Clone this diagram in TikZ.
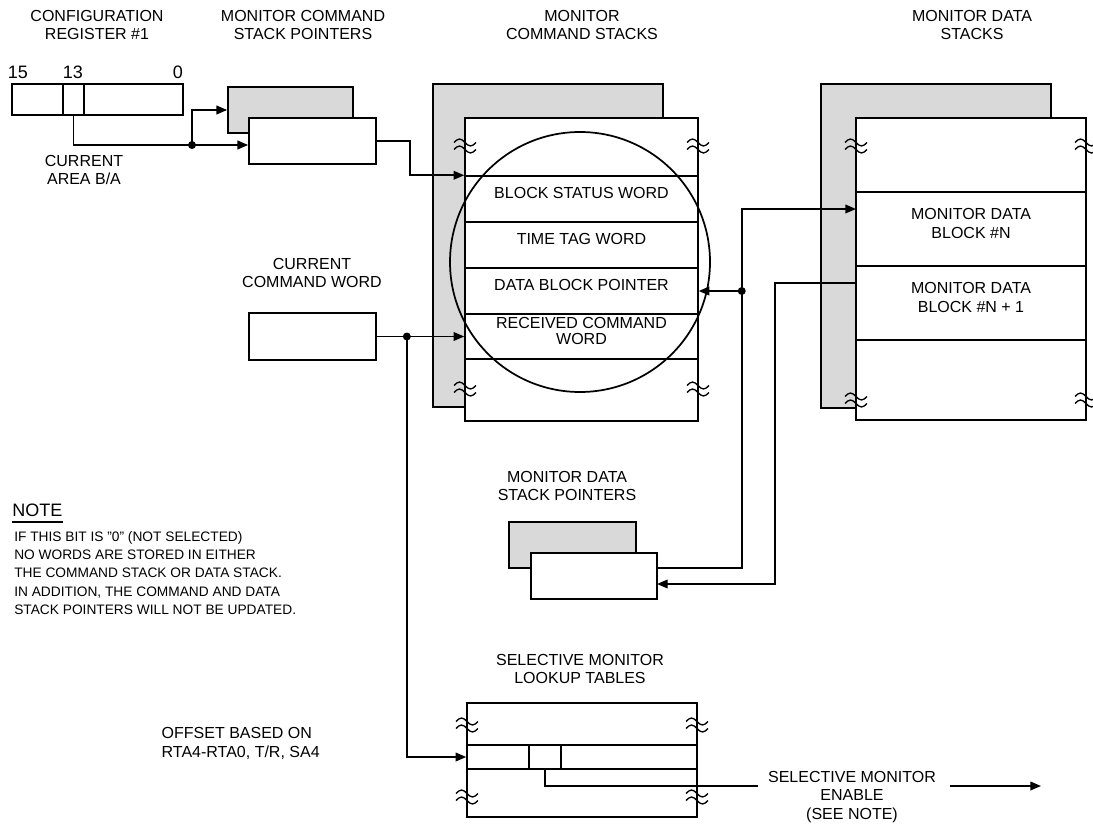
\documentclass[tikz,border=0pt]{standalone}
\usepackage{fontspec}
\setmainfont{Liberation Sans}
\usetikzlibrary{arrows.meta,fit,calc}
\begin{document}
\begin{tikzpicture}[x=0.75pt,y=-0.75pt,
  box/.style={draw, line width=1.3pt, inner sep=0pt},
  shade/.style={box, fill=gray!30},
  wbox/.style={box, fill=white},
  row/.style={draw, line width=1.1pt, inner sep=0pt},
  conn/.style={line width=1.2pt},
  arr/.style={conn, -{Triangle[length=8pt,width=6.5pt]}},
  dot/.style={circle, fill=black, inner sep=0pt, minimum size=6pt},
  lbl/.style={align=center, font=\fontsize{12}{14.2}\selectfont},
  brk/.pic={\draw[line width=1pt] (-11,-3.5) sin (-5.5,-7) cos (0,-3.5) sin (5.5,0) cos (11,-3.5)
      (-11,3.5) sin (-5.5,0) cos (0,3.5) sin (5.5,7) cos (11,3.5);}
]
\useasboundingbox (0,0) rectangle (1093,828);

% titles
\node[lbl] (t1) at (97,25) {CONFIGURATION\\REGISTER \#1};
\node[lbl] (t2) at (303,25) {MONITOR COMMAND\\STACK POINTERS};
\node[lbl] (t3) at (582,25) {MONITOR\\COMMAND STACKS};
\node[lbl] (t4) at (972,25) {MONITOR DATA\\STACKS};

% configuration register
\node[box, fit={(12,84) (183,115)}] (reg) {};
\node[box, fit={(63,84) (84,115)}] (reg13) {};
\node[font=\fontsize{13.5}{16}\selectfont] (n15) at (18,72) {15};
\node[font=\fontsize{13.5}{16}\selectfont] (n13) at (73,72) {13};
\node[font=\fontsize{13.5}{16}\selectfont] (n0) at (178,72) {0};
\node[lbl] (cab) at (84,170) {CURRENT\\AREA B/A};

% monitor command stack pointers
\node[shade, fit={(228,87) (353,133)}] (cspb) {};
\node[wbox, fit={(249,118) (376,164)}] (csp) {};

% monitor command stacks
\node[shade, fit={(433,84) (663,407)}] (csb) {};
\node[wbox, fit={(465,118) (698,421)}] (cs) {};
\node[row, lbl, fit={(465,176) (698,222)}] (bsw) {BLOCK STATUS WORD};
\node[row, lbl, fit={(465,222) (698,268)}] (ttw) {TIME TAG WORD};
\node[row, lbl, fit={(465,268) (698,314)}] (dbp) {DATA BLOCK POINTER};
\node[row, lbl, font=\fontsize{12}{12.5}\selectfont, fit={(465,314) (698,359)}] (rcw) {RECEIVED COMMAND\\WORD};
\node[draw, circle, line width=1.3pt, inner sep=0pt, minimum size=195pt] (mag) at (580,262) {};

% monitor data stacks
\node[shade, fit={(821,84) (1051,408)}] (dsb) {};
\node[wbox, fit={(856,118) (1086,420)}] (ds) {};
\node[row, lbl, fit={(856,192) (1086,266)}] (bn) {MONITOR DATA\\BLOCK \#N};
\node[row, lbl, fit={(856,266) (1086,340)}] (bn1) {MONITOR DATA\\BLOCK \#N + 1};

% current command word
\node[lbl] (ccwt) at (312,273) {CURRENT\\COMMAND WORD};
\node[box, fit={(249,313) (376,360)}] (ccw) {};

% monitor data stack pointers
\node[lbl] (dspt) at (567,486) {MONITOR DATA\\STACK POINTERS};
\node[shade, fit={(509,522) (636,568)}] (dspb) {};
\node[wbox, fit={(531,553) (657,599)}] (dsp) {};

% lookup tables
\node[lbl] (lkt) at (580,669) {SELECTIVE MONITOR\\LOOKUP TABLES};
\node[box, fit={(467,703) (697,817)}] (lk) {};
\node[row, fit={(467,745) (697,769)}] (lkr) {};
\node[row, fit={(529,745) (561,769)}] (lkbit) {};
\node[lbl, align=left, anchor=west] (off) at (157,743) {OFFSET BASED ON\\RTA4-RTA0, T/R, SA4};
\node[lbl] (sme) at (852,797) {SELECTIVE MONITOR\\ENABLE\\(SEE NOTE)};

% break marks
\foreach \x/\y in {465/146,698/146,465/389,698/389,856/146,1086/146,856/400,1086/400,467/725,697/725,467/797,697/797}
  \pic at (\x,\y) {brk};

% note
\node[anchor=west, inner sep=0pt, font=\fontsize{13.5}{16}\selectfont] (note) at (12,510) {NOTE};
\draw[line width=1pt] ([yshift=-4pt]note.south west) -- ([yshift=-4pt]note.south east);
\node[anchor=west, align=left, inner sep=0pt, font=\fontsize{10.3}{13.7}\selectfont] (notetxt) at (14,573)
  {IF THIS BIT IS \symbol{34}0\symbol{34} (NOT SELECTED)\\NO WORDS ARE STORED IN EITHER\\THE COMMAND STACK OR DATA STACK.\\IN ADDITION, THE COMMAND AND DATA\\STACK POINTERS WILL NOT BE UPDATED.};

% connectors
\coordinate (j1) at (192,145);
\draw[conn] (reg13.south) |- (j1);
\draw[arr] (j1) -- (j1 -| csp.west);
\draw[arr] (j1) |- (cspb.west);
\node[dot] (d1) at (j1) {};
\draw[arr] (csp.east) -- ++(33,0) |- (bsw.north west);

\coordinate (j2) at ($(ccw.east)+(30,0)$);
\draw[arr] (ccw.east) -- (rcw.west);
\draw[arr] (j2) |- (lkr.west);
\node[dot] (d2) at (j2) {};

\coordinate (j3) at ($(dbp.east)+(43,0)$);
\coordinate (dsin) at (856,209);
\coordinate (dspo) at (657,568);
\coordinate (dsout) at (856,283);
\coordinate (dspi) at (657,584);
\draw[arr] (j3) -- (dbp.east);
\draw[arr] (j3) |- (dsin);
\draw[conn] (j3) |- (dspo);
\node[dot] (d3) at (j3) {};
\draw[arr] (dsout) -- ++(-81,0) |- (dspi);

\coordinate (smeL) at (758,786);
\coordinate (smeR) at (950,786);
\coordinate (smeE) at (1041,786);
\draw[conn] (lkbit.south) |- (smeL);
\draw[arr] (smeR) -- (smeE);
\end{tikzpicture}
\end{document}
